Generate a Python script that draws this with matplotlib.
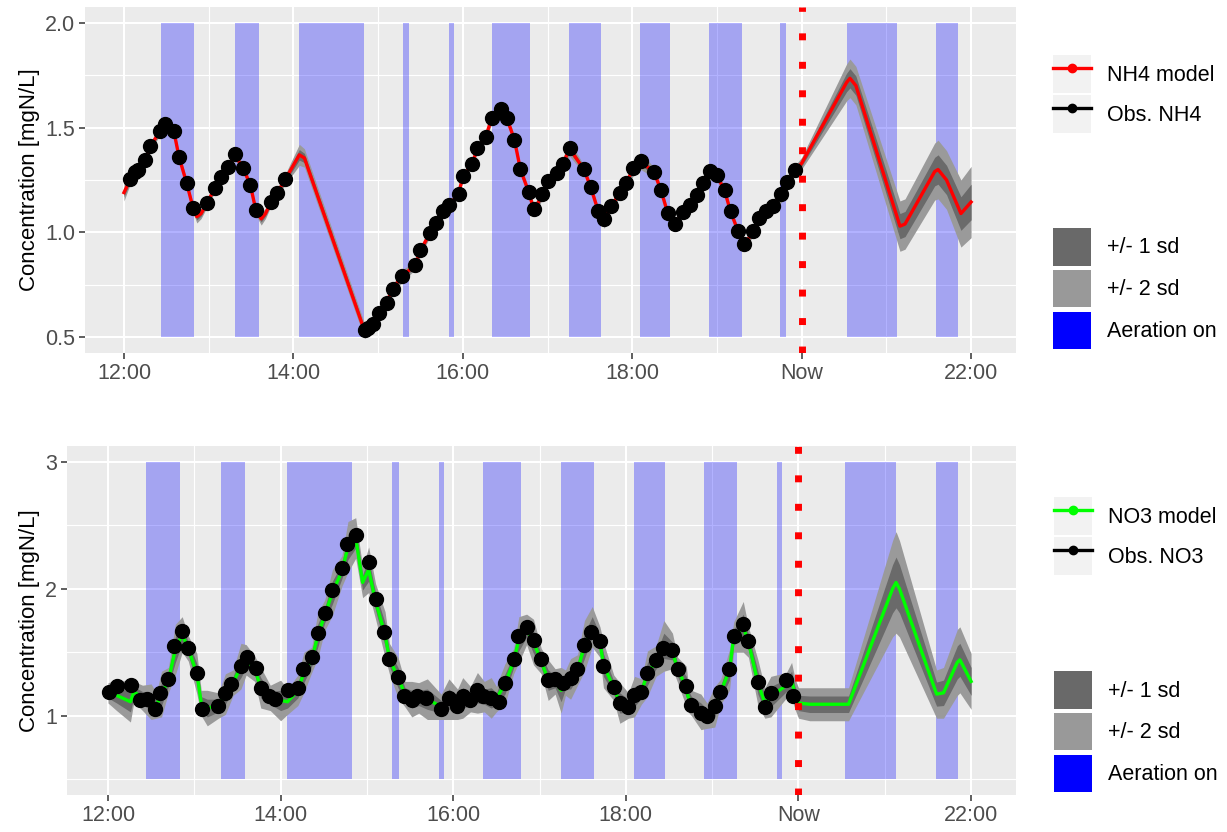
import matplotlib
matplotlib.use("Agg")
import matplotlib.pyplot as plt
from matplotlib.lines import Line2D
from matplotlib.patches import Patch
import numpy as np

plt.rcParams['font.family'] = ['Liberation Sans', 'DejaVu Sans']
plt.rcParams['lines.scale_dashes'] = False

# x ticks (hours), "Now" = 20:00
tick_hours = [12, 14, 16, 18, 20, 22]
tick_labels = ['12:00', '14:00', '16:00', '18:00', 'Now', '22:00']
now_hour = 20.0

# aeration periods (hours)
aer_start = [12.44, 13.31, 14.07, 15.29, 15.84, 16.35, 17.25, 18.09, 18.91, 19.75, 20.54, 21.59]
aer_end = [12.83, 13.59, 14.83, 15.37, 15.89, 16.79, 17.63, 18.45, 19.29, 19.81, 21.13, 21.85]

# ---- NH4 ----
nh4_obs_t = [12.07, 12.13, 12.16, 12.25, 12.31, 12.42, 12.48, 12.59, 12.65, 12.74, 12.82, 12.98, 13.07,
             13.15, 13.23, 13.31, 13.40, 13.49, 13.56, 13.73, 13.81, 13.90, 14.84, 14.88, 14.94, 15.01,
             15.10, 15.17, 15.28, 15.44, 15.50, 15.61, 15.68, 15.77, 15.84, 15.95, 16.00, 16.11, 16.17,
             16.27, 16.34, 16.45, 16.52, 16.61, 16.68, 16.78, 16.84, 16.94, 17.01, 17.11, 17.18, 17.26,
             17.43, 17.51, 17.60, 17.67, 17.75, 17.85, 17.93, 18.01, 18.10, 18.26, 18.34, 18.42, 18.51,
             18.60, 18.68, 18.76, 18.83, 18.92, 19.00, 19.09, 19.16, 19.25, 19.32, 19.43, 19.50, 19.58,
             19.66, 19.76, 19.83, 19.92]
nh4_obs = [1.256, 1.288, 1.30, 1.346, 1.412, 1.483, 1.516, 1.483, 1.358, 1.236, 1.118, 1.142, 1.212,
           1.263, 1.313, 1.373, 1.307, 1.228, 1.108, 1.143, 1.187, 1.256, 0.533, 0.545, 0.565, 0.618,
           0.665, 0.728, 0.792, 0.843, 0.916, 0.995, 1.044, 1.102, 1.133, 1.184, 1.267, 1.327, 1.401,
           1.456, 1.546, 1.590, 1.546, 1.443, 1.303, 1.193, 1.110, 1.184, 1.244, 1.283, 1.325, 1.404,
           1.303, 1.218, 1.102, 1.066, 1.126, 1.189, 1.236, 1.307, 1.341, 1.286, 1.204, 1.094, 1.042,
           1.099, 1.133, 1.178, 1.236, 1.291, 1.272, 1.204, 1.102, 1.008, 0.945, 1.008, 1.071, 1.102,
           1.126, 1.181, 1.241, 1.299]

nh4_mod_t = [12.00, 12.07, 12.16, 12.25, 12.31, 12.42, 12.48, 12.59, 12.65, 12.74, 12.82, 12.86, 12.91,
             12.98, 13.07, 13.15, 13.23, 13.31, 13.40, 13.49, 13.56, 13.62, 13.67, 13.73, 13.81, 13.90,
             14.07, 14.13, 14.84, 14.94, 15.01, 15.10, 15.17, 15.28, 15.44, 15.50, 15.61, 15.68, 15.77,
             15.84, 15.95, 16.00, 16.11, 16.17, 16.27, 16.34, 16.45, 16.52, 16.61, 16.68, 16.78, 16.84,
             16.94, 17.01, 17.11, 17.18, 17.26, 17.43, 17.51, 17.60, 17.67, 17.75, 17.85, 17.93, 18.01,
             18.10, 18.26, 18.34, 18.42, 18.51, 18.60, 18.68, 18.76, 18.83, 18.92, 19.00, 19.09, 19.16,
             19.25, 19.32, 19.43, 19.50, 19.58, 19.66, 19.76, 19.83, 19.92, 20.00, 20.53, 20.57, 20.64,
             21.16, 21.22, 21.57, 21.61, 21.71, 21.88, 22.00]
nh4_mod = [1.19, 1.25, 1.30, 1.345, 1.41, 1.48, 1.51, 1.48, 1.36, 1.235, 1.11, 1.075, 1.09,
           1.14, 1.21, 1.26, 1.31, 1.37, 1.31, 1.23, 1.10, 1.065, 1.09, 1.14, 1.19, 1.25,
           1.37, 1.355, 0.53, 0.565, 0.615, 0.665, 0.73, 0.79, 0.845, 0.915, 0.995, 1.045, 1.10,
           1.13, 1.185, 1.265, 1.325, 1.40, 1.455, 1.545, 1.585, 1.545, 1.44, 1.30, 1.19, 1.105,
           1.18, 1.245, 1.285, 1.325, 1.40, 1.30, 1.215, 1.10, 1.06, 1.125, 1.185, 1.235, 1.305,
           1.34, 1.285, 1.20, 1.09, 1.04, 1.10, 1.13, 1.18, 1.235, 1.29, 1.27, 1.20, 1.10,
           1.005, 0.94, 1.005, 1.07, 1.10, 1.125, 1.18, 1.24, 1.295, 1.33, 1.715, 1.735, 1.70,
           1.03, 1.04, 1.29, 1.30, 1.25, 1.09, 1.145]
nh4_sd = [0.02, 0.012, 0.01, 0.01, 0.01, 0.01, 0.012, 0.012, 0.01, 0.01, 0.01, 0.015, 0.012,
          0.01, 0.01, 0.01, 0.01, 0.012, 0.01, 0.01, 0.01, 0.015, 0.012, 0.01, 0.01, 0.012,
          0.025, 0.022, 0.018, 0.012, 0.01, 0.01, 0.01, 0.015, 0.01, 0.01, 0.01, 0.01, 0.015,
          0.01, 0.01, 0.01, 0.01, 0.01, 0.01, 0.012, 0.012, 0.012, 0.01, 0.01, 0.01, 0.015,
          0.01, 0.015, 0.012, 0.015, 0.018, 0.01, 0.01, 0.01, 0.02, 0.01, 0.01, 0.01, 0.018,
          0.02, 0.012, 0.01, 0.01, 0.012, 0.01, 0.01, 0.01, 0.015, 0.02, 0.012, 0.01, 0.01,
          0.01, 0.012, 0.01, 0.015, 0.01, 0.015, 0.018, 0.015, 0.012, 0.014, 0.044, 0.046, 0.046,
          0.06, 0.06, 0.068, 0.07, 0.07, 0.08, 0.085]

# ---- NO3 ----
no3_obs_t = [12.01, 12.10, 12.27, 12.37, 12.45, 12.54, 12.60, 12.70, 12.76, 12.86, 12.93, 13.03, 13.09,
             13.28, 13.36, 13.43, 13.54, 13.61, 13.71, 13.77, 13.86, 13.94, 14.09, 14.20, 14.26, 14.36,
             14.43, 14.51, 14.60, 14.71, 14.77, 14.87, 15.02, 15.10, 15.20, 15.26, 15.36, 15.43, 15.52,
             15.58, 15.68, 15.86, 15.95, 16.04, 16.11, 16.19, 16.27, 16.35, 16.44, 16.53, 16.60, 16.70,
             16.75, 16.85, 16.93, 17.02, 17.10, 17.18, 17.27, 17.36, 17.43, 17.52, 17.60, 17.70, 17.74,
             17.86, 17.93, 18.03, 18.09, 18.18, 18.25, 18.35, 18.43, 18.54, 18.60, 18.70, 18.76, 18.87,
             18.94, 19.03, 19.09, 19.20, 19.25, 19.36, 19.42, 19.53, 19.61, 19.68, 19.86, 19.94]
no3_obs = [1.19, 1.23, 1.245, 1.125, 1.135, 1.055, 1.18, 1.29, 1.55, 1.67, 1.53, 1.34, 1.055,
           1.08, 1.18, 1.25, 1.395, 1.465, 1.375, 1.22, 1.155, 1.135, 1.20, 1.22, 1.365, 1.46,
           1.655, 1.81, 1.99, 2.16, 2.355, 2.42, 2.21, 1.92, 1.66, 1.445, 1.305, 1.155, 1.12,
           1.155, 1.14, 1.055, 1.14, 1.08, 1.155, 1.125, 1.20, 1.155, 1.14, 1.105, 1.26, 1.445,
           1.625, 1.70, 1.60, 1.445, 1.285, 1.29, 1.255, 1.30, 1.365, 1.56, 1.66, 1.59, 1.39,
           1.225, 1.10, 1.07, 1.16, 1.19, 1.34, 1.435, 1.535, 1.52, 1.365, 1.235, 1.085, 1.025,
           0.995, 1.075, 1.19, 1.365, 1.625, 1.72, 1.59, 1.265, 1.07, 1.18, 1.285, 1.155]

no3_mod_t = [12.00, 12.10, 12.26, 12.30, 12.40, 12.50, 12.56, 12.62, 12.70, 12.78, 12.86, 12.93, 13.03,
             13.08, 13.15, 13.28, 13.36, 13.45, 13.54, 13.60, 13.70, 13.77, 13.88, 14.00, 14.08, 14.20,
             14.27, 14.36, 14.43, 14.51, 14.60, 14.71, 14.78, 14.87, 14.95, 15.02, 15.10, 15.21, 15.26,
             15.36, 15.44, 15.52, 15.60, 15.70, 15.86, 15.95, 16.05, 16.11, 16.20, 16.28, 16.36, 16.44,
             16.50, 16.53, 16.60, 16.70, 16.76, 16.85, 16.93, 17.02, 17.10, 17.18, 17.25, 17.30, 17.36,
             17.44, 17.52, 17.61, 17.70, 17.74, 17.86, 17.93, 18.03, 18.10, 18.18, 18.25, 18.35, 18.44,
             18.54, 18.60, 18.70, 18.72, 18.76, 18.87, 18.94, 19.03, 19.10, 19.20, 19.25, 19.36, 19.42,
             19.53, 19.61, 19.68, 19.86, 19.92, 19.96, 20.00, 20.13, 20.58, 21.09, 21.13, 21.17, 21.60,
             21.68, 21.84, 21.87, 22.00]
no3_mod = [1.18, 1.16, 1.11, 1.19, 1.14, 1.11, 1.08, 1.17, 1.28, 1.52, 1.64, 1.53, 1.33,
           1.10, 1.06, 1.08, 1.17, 1.26, 1.39, 1.44, 1.37, 1.22, 1.14, 1.12, 1.11, 1.20,
           1.34, 1.44, 1.63, 1.79, 1.97, 2.14, 2.33, 2.40, 2.05, 2.15, 1.90, 1.64, 1.45,
           1.30, 1.17, 1.13, 1.14, 1.13, 1.07, 1.13, 1.09, 1.14, 1.13, 1.18, 1.15, 1.14,
           1.13, 1.17, 1.25, 1.43, 1.60, 1.68, 1.58, 1.43, 1.28, 1.27, 1.20, 1.26, 1.29,
           1.36, 1.55, 1.70, 1.58, 1.40, 1.22, 1.10, 1.08, 1.15, 1.19, 1.33, 1.43, 1.55,
           1.51, 1.36, 1.23, 1.15, 1.10, 1.03, 1.00, 1.07, 1.19, 1.36, 1.62, 1.70, 1.58,
           1.26, 1.10, 1.15, 1.24, 1.28, 1.17, 1.10, 1.09, 1.09, 2.00, 2.05, 2.00, 1.17,
           1.18, 1.42, 1.44, 1.27]
no3_sd = [0.04, 0.06, 0.08, 0.04, 0.05, 0.07, 0.05, 0.09, 0.05, 0.10, 0.07, 0.05, 0.08,
          0.05, 0.07, 0.05, 0.08, 0.05, 0.09, 0.06, 0.05, 0.08, 0.05, 0.08, 0.05, 0.06,
          0.08, 0.05, 0.09, 0.06, 0.09, 0.06, 0.10, 0.08, 0.06, 0.09, 0.07, 0.09, 0.06,
          0.08, 0.05, 0.07, 0.06, 0.08, 0.05, 0.08, 0.06, 0.08, 0.05, 0.08, 0.06, 0.08,
          0.05, 0.06, 0.08, 0.05, 0.09, 0.06, 0.09, 0.05, 0.08, 0.05, 0.09, 0.05, 0.08,
          0.06, 0.10, 0.08, 0.06, 0.09, 0.05, 0.08, 0.05, 0.08, 0.05, 0.09, 0.06, 0.10,
          0.07, 0.05, 0.08, 0.06, 0.05, 0.07, 0.05, 0.08, 0.05, 0.08, 0.06, 0.10, 0.06,
          0.09, 0.06, 0.08, 0.05, 0.07, 0.06, 0.06, 0.065, 0.065, 0.19, 0.20, 0.19, 0.095,
          0.10, 0.13, 0.13, 0.11]

BG = '#EBEBEB'
BAND1 = '#6a6a6a'
BAND2 = '#9a9a9a'
FS = 15.5


def panel(ax, mod_t, mod, sd, obs_t, obs, col, ylo, yhi, yticks, yminor, xlim, ylim, name, leg_y):
    ax.set_facecolor(BG)
    for s in ax.spines.values():
        s.set_visible(False)
    ax.set_xlim(*xlim)
    ax.set_ylim(*ylim)
    ax.set_xticks(tick_hours)
    ax.set_xticklabels(tick_labels)
    ax.set_xticks([13, 15, 17, 19, 21], minor=True)
    ax.set_yticks(yticks)
    ax.set_yticks(yminor, minor=True)
    ax.grid(which='major', color='white', lw=1.5)
    ax.grid(which='minor', color='white', lw=0.8)
    ax.set_axisbelow(True)
    ax.tick_params(which='major', length=4, width=1.1, color='#333333', labelcolor='#4D4D4D',
                   labelsize=FS, pad=3)
    ax.tick_params(which='minor', length=0)

    widths = [e - s for s, e in zip(aer_start, aer_end)]
    ax.bar(aer_start, yhi - ylo, width=widths, bottom=ylo, align='edge',
           color='blue', alpha=0.3, lw=0, zorder=1)

    m = np.array(mod)
    d = np.array(sd)
    ax.fill_between(mod_t, m - 2 * d, m + 2 * d, color=BAND2, lw=0, zorder=2)
    ax.fill_between(mod_t, m - d, m + d, color=BAND1, lw=0, zorder=3)
    ax.plot(mod_t, mod, color=col, lw=2.4, zorder=4)
    ax.plot(obs_t, obs, 'o', color='black', ms=10, zorder=5)
    # dotted "Now" marker: 5pt squares every ~20pt
    ax.axvline(now_hour, color='red', lw=5, ls=(0, (5, 15.5)), zorder=6)

    ax.set_ylabel('Concentration [mgN/L]', fontsize=16, color='black')

    h1 = [(Patch(facecolor='#F2F2F2', edgecolor='none'),
           Line2D([], [], color=col, lw=2.4, marker='o', ms=6)),
          (Patch(facecolor='#F2F2F2', edgecolor='none'),
           Line2D([], [], color='black', lw=2.4, marker='o', ms=6))]
    leg1 = ax.legend(h1, [name + ' model', 'Obs. ' + name], loc='upper left',
                     bbox_to_anchor=(1.04, leg_y[0]), frameon=False, fontsize=FS,
                     handlelength=1.75, handleheight=2.35, labelspacing=0.08,
                     handletextpad=0.75, borderpad=0, borderaxespad=0)
    ax.add_artist(leg1)
    h2 = [Patch(facecolor='#696969', edgecolor='none'),
          Patch(facecolor='#999999', edgecolor='none'),
          Patch(facecolor='blue', edgecolor='none')]
    ax.legend(h2, ['+/- 1 sd', '+/- 2 sd', 'Aeration on'], loc='upper left',
              bbox_to_anchor=(1.04, leg_y[1]), frameon=False, fontsize=FS,
              handlelength=1.75, handleheight=2.3, labelspacing=0.2,
              handletextpad=0.75, borderpad=0, borderaxespad=0)


fig = plt.figure(figsize=(12.27, 8.32), dpi=100)
ax1 = fig.add_axes([85 / 1227, 1 - 353 / 832, 931 / 1227, 346 / 832])
ax2 = fig.add_axes([67 / 1227, 1 - 795 / 832, 949 / 1227, 349 / 832])

panel(ax1, nh4_mod_t, nh4_mod, nh4_sd, nh4_obs_t, nh4_obs, 'red', 0.5, 2.0,
      [0.5, 1.0, 1.5, 2.0], [0.75, 1.25, 1.75], (11.54, 22.53), (0.425, 2.075), 'NH4',
      (0.861, 0.361))
ax1.set_yticklabels(['0.5', '1.0', '1.5', '2.0'])
ax1.yaxis.set_label_coords(-0.048, 0.5)

panel(ax2, no3_mod_t, no3_mod, no3_sd, no3_obs_t, no3_obs, '#00FF00', 0.5, 3.0,
      [1, 2, 3], [0.5, 1.5, 2.5], (11.525, 22.52), (0.375, 3.125), 'NO3',
      (0.854, 0.355))
ax2.yaxis.set_label_coords(-0.028, 0.5)

fig.savefig('out.png', dpi=100)
